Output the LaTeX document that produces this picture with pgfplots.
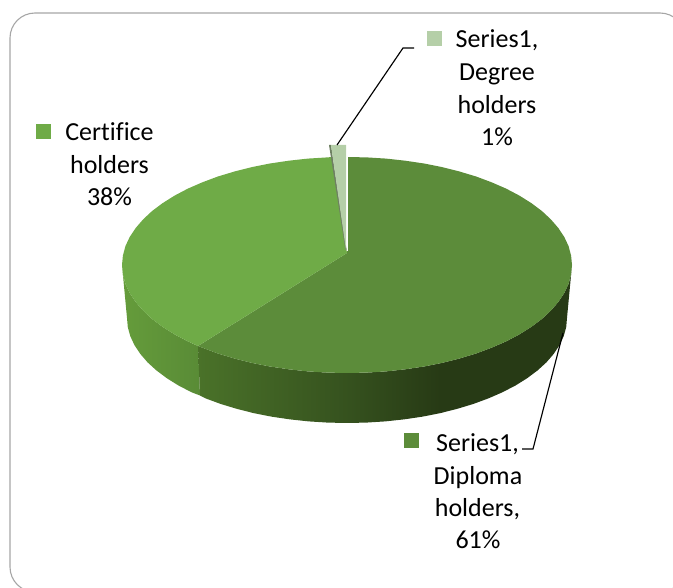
\documentclass[border=0pt]{standalone}
\usepackage{pgfplots}
\pgfplotsset{compat=1.18}
\usepackage{fontspec}
\setmainfont[Ligatures=NoCommon]{Carlito}
\definecolor{certtop}{HTML}{6FAB47}
\definecolor{diptop}{HTML}{5C8C3A}
\definecolor{degtop}{HTML}{B5CFA8}
\definecolor{degedge}{HTML}{6E8062}
\definecolor{frameline}{HTML}{A6A6A6}
\definecolor{certsideA}{HTML}{659C3B}
\definecolor{certsideB}{HTML}{598B36}
\tikzset{lbl/.style={anchor=base, inner sep=0pt, text=black,
    font=\fontsize{26}{32}\selectfont}}
% Wall of the large slice: mid green at its left end, very dark towards the right
\definecolor{dipwallA}{HTML}{4A7229}
\definecolor{dipwallB}{HTML}{35511E}
\definecolor{dipwallC}{HTML}{273A15}
\pgfdeclarehorizontalshading{dipside}{100bp}{
  color(0bp)=(dipwallA);
  color(25bp)=(dipwallA);
  color(45.3bp)=(dipwallB);
  color(57.4bp)=(dipwallC);
  color(75bp)=(dipwallC);
  color(100bp)=(dipwallC)}
\begin{document}
\begin{tikzpicture}
\begin{axis}[
  width=673pt, height=588pt, scale only axis,
  xmin=0, xmax=673, ymin=0, ymax=588, y dir=reverse,
  hide axis, clip=true,
  every axis plot/.append style={no markers, forget plot},
]
\path (axis cs:0,0) rectangle (axis cs:673,588);

% Chart frame
\addplot[draw=frameline, line width=1.1pt, rounded corners=25pt] coordinates {
  (300,13) (685,13) (685,592) (10,592) (10,13) (300,13)};

% Side wall of the certificate slice
\addplot[draw=none, left color=certsideA, right color=certsideB] coordinates {
  (198,346) (187.9,341.4) (174.6,334.4) (162.7,326.9) (152.1,319) (143.1,310.6)
  (135.6,301.9) (129.7,293) (125.4,283.8) (122.9,274.4) (122,265)
  (127,318) (127.8,327.2) (130.3,336.2) (134.5,345.2) (140.3,353.9) (147.6,362.4)
  (156.5,370.5) (166.8,378.2) (178.5,385.5) (191.4,392.2) (200,395.5)} -- cycle;

% Side wall of the diploma slice
\addplot[draw=none, shading=dipside] coordinates {
  (572,265) (571.1,274.4) (568.6,283.8) (564.3,293) (558.4,301.9) (550.9,310.6)
  (541.9,319) (531.3,326.9) (519.4,334.4) (506.1,341.4) (491.6,347.7) (476.1,353.5)
  (459.5,358.5) (442.1,362.9) (424,366.5) (405.2,369.3) (386.1,371.4) (366.6,372.6)
  (347,373) (327.4,372.6) (307.9,371.4) (288.8,369.3) (270,366.5) (251.9,362.9)
  (234.5,358.5) (217.9,353.5) (202.4,347.7) (198,346)
  (200,395.5) (205.6,398.4) (220.8,404) (237,408.9) (254,413.2) (271.8,416.7)
  (290.1,419.4) (308.8,421.4) (327.8,422.6) (347,423) (366.2,422.6) (385.2,421.4)
  (403.9,419.4) (422.2,416.7) (440,413.2) (457,408.9) (473.2,404) (488.4,398.4)
  (502.6,392.2) (515.5,385.5) (527.2,378.2) (537.5,370.5) (546.4,362.4) (553.7,353.9)
  (559.5,345.2) (563.7,336.2) (566.2,327.2) (567,318)} -- cycle;

% Top face: diploma holders, 61%
\addplot[fill=diptop, draw=none] coordinates {
  (347,253) (347,157) (366.6,157.4) (386.1,158.6) (405.2,160.7) (424,163.5)
  (442.1,167.1) (459.5,171.5) (476.1,176.5) (491.6,182.3) (506.1,188.6) (519.4,195.6)
  (531.3,203.1) (541.9,211) (550.9,219.4) (558.4,228.1) (564.3,237) (568.6,246.2)
  (571.1,255.6) (572,265) (571.1,274.4) (568.6,283.8) (564.3,293) (558.4,301.9)
  (550.9,310.6) (541.9,319) (531.3,326.9) (519.4,334.4) (506.1,341.4) (491.6,347.7)
  (476.1,353.5) (459.5,358.5) (442.1,362.9) (424,366.5) (405.2,369.3) (386.1,371.4)
  (366.6,372.6) (347,373) (327.4,372.6) (307.9,371.4) (288.8,369.3) (270,366.5)
  (251.9,362.9) (234.5,358.5) (217.9,353.5) (202.4,347.7) (198,346)} -- cycle;

% Top face: certificate holders, 38%
\addplot[fill=certtop, draw=none] coordinates {
  (347,253) (198,346) (187.9,341.4) (174.6,334.4) (162.7,326.9) (152.1,319)
  (143.1,310.6) (135.6,301.9) (129.7,293) (125.4,283.8) (122.9,274.4) (122,265)
  (122.9,255.6) (125.4,246.2) (129.7,237) (135.6,228.1) (143.1,219.4) (152.1,211)
  (162.7,203.1) (174.6,195.6) (187.9,188.6) (202.4,182.3) (217.9,176.5) (234.5,171.5)
  (251.9,167.1) (270,163.5) (288.8,160.7) (307.9,158.6) (327.4,157.4) (332,157)} -- cycle;

% Pulled-out degree slice, 1%
\addplot[fill=degedge, draw=none] coordinates {
  (329,145) (331,145) (346.5,250) (345.5,250)} -- cycle;
\addplot[fill=degtop, draw=none] coordinates {
  (331,145) (346,145) (346,250)} -- cycle;
\addplot[draw=white, line width=1pt] coordinates {(347,146) (347,251)};

% Leader lines
\addplot[draw=black, line width=1.15pt] coordinates {(337,145) (403,48) (414,48)};
\addplot[draw=black, line width=1.15pt] coordinates {(563,333) (533,449) (522,449)};

% Legend keys
\addplot[fill=degtop, draw=none] coordinates {(427,31) (442,31) (442,46) (427,46)} -- cycle;
\addplot[fill=certtop, draw=none] coordinates {(36,124) (51,124) (51,139) (36,139)} -- cycle;
\addplot[fill=diptop, draw=none] coordinates {(404,433) (419,433) (419,448) (404,448)} -- cycle;

% Data labels
\node[lbl] at (axis cs:497,48) {Series1,};
\node[lbl] at (axis cs:497,81) {Degree};
\node[lbl] at (axis cs:497,113.5) {holders};
\node[lbl] at (axis cs:497,146) {1\%};

\node[lbl] at (axis cs:109.5,141) {Certifice};
\node[lbl] at (axis cs:109.5,173.5) {holders};
\node[lbl] at (axis cs:109.5,206) {38\%};

\node[lbl] at (axis cs:477.5,451.5) {Series1,};
\node[lbl] at (axis cs:478,484) {Diploma};
\node[lbl] at (axis cs:477.5,516) {holders,};
\node[lbl] at (axis cs:478,548) {61\%};
\end{axis}
\end{tikzpicture}
\end{document}
